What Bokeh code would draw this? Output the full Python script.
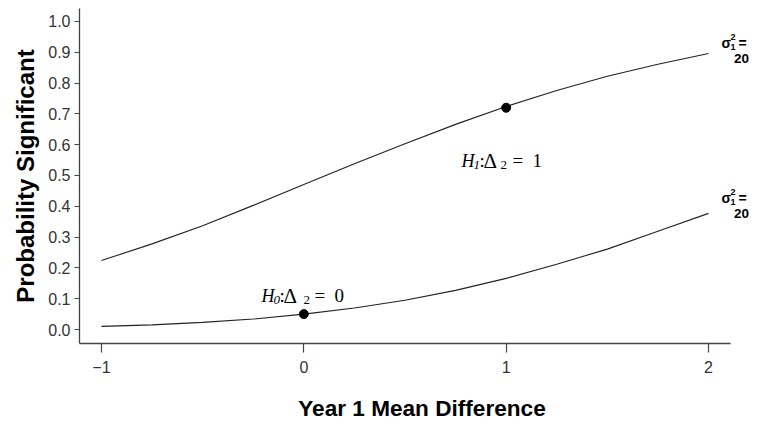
from bokeh.plotting import figure
from bokeh.models import Range1d, FixedTicker, PrintfTickFormatter, Label
from bokeh.embed import file_html
from bokeh.resources import INLINE

# ---- data ----
mean_diff = [-1.0, -0.75, -0.5, -0.25, 0.0, 0.25, 0.5, 0.75, 1.0, 1.25, 1.5, 1.75, 2.0]
power_h1 = [0.224, 0.278, 0.337, 0.403, 0.471, 0.538, 0.603, 0.666, 0.724, 0.776, 0.822, 0.861, 0.896]
power_h0 = [0.010, 0.015, 0.023, 0.034, 0.050, 0.070, 0.095, 0.127, 0.166, 0.212, 0.261, 0.319, 0.377]
point_x = [0, 1]
point_y = [0.05, 0.72]
x_ticks = [-1, 0, 1, 2]
y_ticks = [0.0, 0.1, 0.2, 0.3, 0.4, 0.5, 0.6, 0.7, 0.8, 0.9, 1.0]
sigma_value = "20"

# ---- layout ----
BL, BT, BB = 79, 8, 83
FW, FH = 685, 335
x0, x1 = -1.1087, 2.2768
x_axis_end = 2.1087
y0, y1 = -0.04545, 1.0422

p = figure(frame_width=FW, frame_height=FH, output_backend="svg", toolbar_location=None,
           x_range=Range1d(x0, x1), y_range=Range1d(y0, y1),
           min_border_left=BL, min_border_right=0, min_border_top=BT, min_border_bottom=BB)
p.background_fill_color = "white"
p.border_fill_color = "white"
p.outline_line_color = None
p.xgrid.visible = False
p.ygrid.visible = False

axis_col = "#444444"
for ax in (p.xaxis[0], p.yaxis[0]):
    ax.axis_line_color = axis_col
    ax.axis_line_width = 1.3
    ax.major_tick_line_color = axis_col
    ax.major_tick_line_width = 1.2
    ax.minor_tick_line_color = None
    ax.major_tick_in = 0
    ax.major_label_text_font = "Liberation Sans"
    ax.major_label_text_font_size = "16px"
    ax.major_label_text_color = "#333333"
    ax.axis_label_text_font = "Liberation Sans"
    ax.axis_label_text_font_style = "bold"
    ax.axis_label_text_color = "black"

p.xaxis.ticker = FixedTicker(ticks=x_ticks)
p.xaxis.bounds = (x0, x_axis_end)
p.xaxis.major_label_overrides = {-1: "\u22121"}
p.xaxis.major_tick_out = 9
p.xaxis.major_label_standoff = 8
p.xaxis.axis_label = "Year 1 Mean Difference"
p.xaxis.axis_label_text_font_size = "22.6px"
p.xaxis.axis_label_standoff = 20

p.yaxis.ticker = FixedTicker(ticks=y_ticks)
p.yaxis.formatter = PrintfTickFormatter(format="%.1f")
p.yaxis.major_tick_out = 5
p.yaxis.major_label_standoff = 4
p.yaxis.axis_label = "Probability Significant"
p.yaxis.axis_label_text_font_size = "24px"
p.yaxis.axis_label_standoff = 6

# ---- curves and points ----
p.line(mean_diff, power_h1, line_color="#222222", line_width=1.1)
p.line(mean_diff, power_h0, line_color="#222222", line_width=1.1)
p.scatter(point_x, point_y, size=9, fill_color="black", line_color="black")

# ---- annotations (positions in screenshot pixels, converted to data) ----
OX, OY = BL, BT  # frame origin in screenshot pixels


def px2x(px):
    return x0 + (px - OX) / FW * (x1 - x0)


def px2y(py):
    return y1 - (py - OY) / FH * (y1 - y0)


def add(txt, px, py, size, font="Liberation Serif", style="normal", align="left", color="black"):
    p.add_layout(Label(x=px2x(px), y=px2y(py), text=txt, text_font=font,
                       text_font_size=f"{size}px", text_font_style=style,
                       text_align=align, text_baseline="alphabetic", text_color=color))


# H0 label
add("H", 261, 295, 18, style="italic")
add("0", 273, 299, 13, style="italic")
add(":", 279, 295, 19)
add("\u0394", 283, 295, 21)
add("2", 303, 299, 13)
add("=", 314, 295, 19)
add("0", 334, 295, 19)

# H1 label
add("H", 461, 160, 18, style="italic")
add("1", 473, 164, 13, style="italic")
add(":", 479, 160, 19)
add("\u0394", 483, 160, 21)
add("2", 500, 164, 13)
add("=", 512, 160, 19)
add("1", 532, 160, 19)

# sigma labels at the right end of each curve
for base in (42, 197):
    add("\u03c3", 721, base, 14, font="Liberation Sans", style="bold")
    add("2", 730, base - 6, 9, font="Liberation Sans", style="bold")
    add("1", 730, base + 4, 9, font="Liberation Sans", style="bold")
    add("=", 738, base, 14, font="Liberation Sans", style="bold")
    add(sigma_value, 741, base + 16, 13.5, font="Liberation Sans", style="bold", align="center")

open("out.html", "w").write(file_html(p, INLINE))
